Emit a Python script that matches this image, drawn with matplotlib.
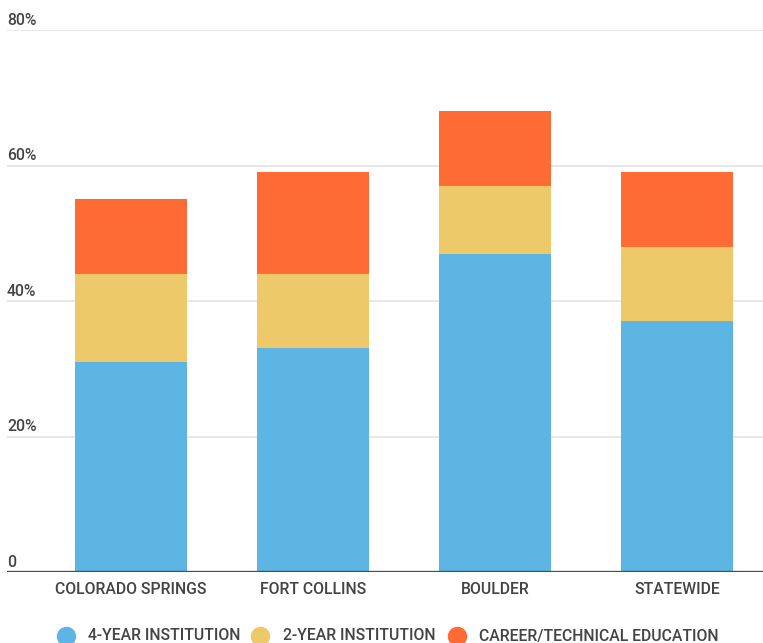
import matplotlib
matplotlib.use("Agg")
import matplotlib.pyplot as plt
from matplotlib.lines import Line2D
import numpy as np

plt.rcParams['font.family'] = ['Roboto', 'DejaVu Sans']

categories = ["COLORADO SPRINGS", "FORT COLLINS", "BOULDER", "STATEWIDE"]
four_year = [31, 33, 47, 37]
two_year = [13, 11, 10, 11]
career_tech = [11, 15, 11, 11]
series_names = ["4-YEAR INSTITUTION", "2-YEAR INSTITUTION", "CAREER/TECHNICAL EDUCATION"]
tick_values = [0, 20, 40, 60, 80]
tick_labels = ["0", "20%", "40%", "60%", "80%"]

colors = ["#5DB5E3", "#EDC96A", "#FF6B35"]
text_color = "#444444"
fs = 11.3
fw = 500

W, H = 763, 643
fig = plt.figure(figsize=(W / 100, H / 100), dpi=100)
ax = fig.add_axes([7 / W, 71 / H, 1 - 7 / W, (572 - 30) / H])

x = np.arange(len(categories))
bw = 0.615
bottom = np.zeros(len(categories))
for vals, col in zip([four_year, two_year, career_tech], colors):
    ax.bar(x, vals, bw, bottom=bottom, color=col, zorder=3)
    bottom += np.array(vals)

ax.set_xlim(-0.681, 3.47)
ax.set_ylim(0, 80)

for v, lab in zip(tick_values, tick_labels):
    if v > 0:
        ax.axhline(v, color="#e3e3e3", lw=1.2, zorder=1)
    ax.text(0, v + 0.35, lab, transform=ax.get_yaxis_transform(),
            ha="left", va="bottom", fontsize=fs, fontweight=fw, color=text_color)
ax.axhline(0, color="#4d4d4d", lw=2.4, zorder=4)

for s in ax.spines.values():
    s.set_visible(False)
ax.set_xticks(x)
ax.set_xticklabels(categories, fontsize=fs, fontweight=fw, color=text_color)
ax.tick_params(axis="x", length=0, pad=7)
ax.set_yticks([])

# legend row
legend_y = 1 - 636 / H
marker_x = [66, 260, 457]
text_x = [88, 283, 479]
for mx, tx, col, name in zip(marker_x, text_x, colors, series_names):
    fig.add_artist(Line2D([mx / W], [legend_y], marker="o", markersize=13,
                          color=col, linestyle="none",
                          transform=fig.transFigure))
    fig.text(tx / W, legend_y, name, ha="left", va="center",
             fontsize=fs, fontweight=fw, color=text_color)

fig.savefig("out.png", dpi=100)
